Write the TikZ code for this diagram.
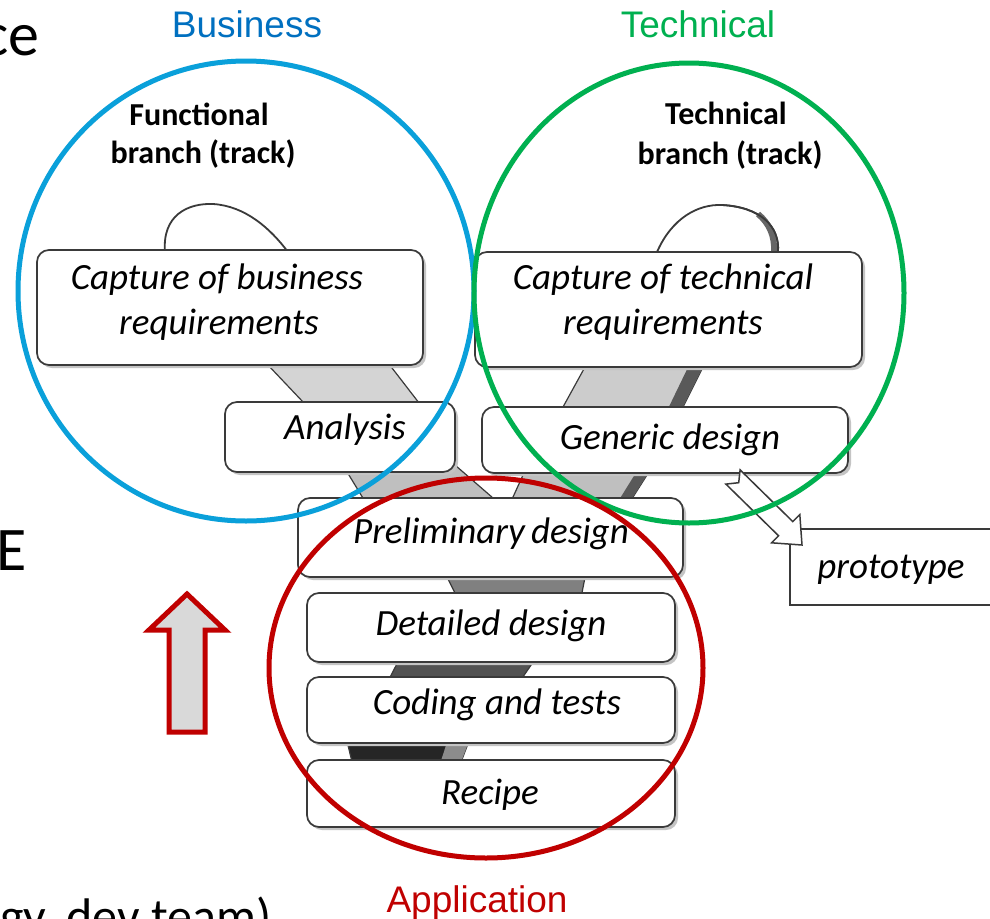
\documentclass[tikz,border=0pt]{standalone}
\usepackage{fontspec}
\setmainfont{Carlito}
\newfontfamily\arialfont{Liberation Sans}
\definecolor{bizblue}{HTML}{0070C0}
\definecolor{circblue}{HTML}{0AA0DA}
\definecolor{techgreen}{HTML}{00B050}
\definecolor{appred}{HTML}{C00000}
\definecolor{boxline}{HTML}{3A3A3A}
\definecolor{shadowgray}{HTML}{C4C4C4}
\definecolor{arrowfill}{HTML}{D9D9D9}
\tikzset{
  stagebox/.style={draw=boxline, line width=1.7pt, fill=white, rounded corners=12pt, inner sep=0pt},
  boxshadow/.style={fill=shadowgray, rounded corners=12pt},
  boxtext/.style={font=\fontsize{37}{42}\selectfont\itshape, anchor=base, inner sep=0pt},
  tracklabel/.style={font=\fontsize{32}{36}\selectfont\bfseries, anchor=base, inner sep=0pt},
  grouplabel/.style={font=\arialfont\fontsize{37}{40}\selectfont, anchor=base, inner sep=0pt},
  slidetext/.style={font=\fontsize{62}{70}\selectfont, inner sep=0pt},
  band/.style={draw=boxline, line width=1.2pt},
  groupring/.style={line width=5pt},
}
\begin{document}
\begin{tikzpicture}[x=1pt,y=-1pt]
\useasboundingbox (0,0) rectangle (990,918);
\clip (0,0) rectangle (990,918);
\fill[white] (0,0) rectangle (990,918);

% ---- slide text cut off at the left ----
\node[slidetext, anchor=base east] (tce) at (40,55) {ce};
\node[slidetext, anchor=base east] (tE) at (27,570) {E};
\node[font=\fontsize{50}{54}\selectfont, anchor=base west, inner sep=0pt] (tdev) at (0,933) {gy, dev team)};

% ---- track bands (behind the boxes) ----
% left branch
\filldraw[band, fill=black!17] (258.5,355) -- (382,355) -- (426,412) -- (312.5,412) -- cycle;
\filldraw[band, fill=black!25] (341,462) -- (451.5,462) -- (504.5,508) -- (369,508) -- cycle;
% technical branch
\filldraw[band, fill=black!20] (590.5,357) -- (708,357) -- (678,417) -- (557.5,417) -- cycle;
\fill[black!65] (708,357) -- (693,357) -- (664,417) -- (678,417) -- cycle;
\filldraw[band, fill=black!25] (528.5,463) -- (654.6,463) -- (626,508) -- (508,508) -- cycle;
\fill[black!65] (654.6,463) -- (642,463) -- (614,508) -- (626,508) -- cycle;
% merged track
\filldraw[band, fill=black!50] (442,567) -- (587,567) -- (580,603) -- (460,603) -- cycle;
\filldraw[band, fill=black!68] (403,652) -- (540,652) -- (516,687) -- (385,687) -- cycle;
\filldraw[band, fill=black!85] (345,733) -- (472,733) -- (458,770) -- (354,770) -- cycle;
\fill[black!45] (472,733) -- (450,733) -- (438,770) -- (458,770) -- cycle;

% ---- loops above the top boxes ----
\draw[boxline, line width=1.8pt, fill=white] (165,252) .. controls (162,215) and (188,203) .. (213,204) .. controls (245,206) and (270,228) .. (288,252);
\draw[boxline, line width=1.8pt, fill=white] (657,252) .. controls (672,218) and (698,204) .. (722,205) .. controls (760,207) and (780,226) .. (778,252);
\draw[black!60, line width=6pt] (774,252) .. controls (775,236) and (769,223) .. (758,214);
\draw[boxline, line width=1.8pt] (722,205) .. controls (760,207) and (780,226) .. (778,252);

% ---- stage boxes ----
\foreach \a/\b/\c/\d in {37/250/423/365, 475/252/862/367, 225/402/455/472, 482/407/848/473, 298/498/683/577, 307/593/675/662, 307/677/675/743, 307/760/675/827}
  \fill[boxshadow] (\a+3,\b+3) rectangle (\c+3,\d+3);
\node[stagebox, minimum width=386pt, minimum height=115pt] (bus) at (230,307.5) {};
\node[stagebox, minimum width=387pt, minimum height=115pt] (tec) at (668.5,309.5) {};
\node[stagebox, minimum width=230pt, minimum height=70pt] (ana) at (340,437) {};
\node[stagebox, minimum width=366pt, minimum height=66pt] (gen) at (665,440) {};
\node[stagebox, minimum width=385pt, minimum height=79pt] (pre) at (490.5,537.5) {};
\node[stagebox, minimum width=368pt, minimum height=69pt] (det) at (491,627.5) {};
\node[stagebox, minimum width=368pt, minimum height=66pt] (cod) at (491,710) {};
\node[stagebox, minimum width=368pt, minimum height=67pt] (rec) at (491,793.5) {};
\node[draw=boxline, line width=1.7pt, fill=white, minimum width=230pt, minimum height=76pt, inner sep=0pt] (pro) at (905,567) {};

\node[boxtext] (tbus1) at (217,289) {Capture of business};
\node[boxtext] (tbus2) at (219,334) {requirements};
\node[boxtext] (ttec1) at (663,289) {Capture of technical};
\node[boxtext] (ttec2) at (663,334) {requirements};
\node[boxtext] (tana) at (345,439) {Analysis};
\node[boxtext] (tgen) at (670,449) {Generic design};
\node[boxtext] (tpre) at (491,543) {Preliminary\kern-2pt\ design};
\node[boxtext] (tdet) at (491,635) {Detailed design};
\node[boxtext] (tcod) at (497,714) {Coding and tests};
\node[boxtext] (trec) at (490,804) {Recipe};
\node[boxtext] (tpro) at (891,578) {prototype};

% ---- hollow notched arrow towards the prototype ----
\filldraw[draw=boxline, line width=1.5pt, fill=white, line join=miter]
  (740.1,469.9) -- (792.8,521.6) -- (799.8,514.6) -- (802,545) -- (771.6,542.8) -- (778.6,535.8) -- (725.9,484.1) -- (738.7,482.7) -- cycle;

% ---- red upward block arrow ----
\filldraw[draw=appred, fill=arrowfill, line width=5pt, line join=miter]
  (187,594) -- (225,630) -- (205,630) -- (205,732) -- (169,732) -- (169,630) -- (149,630) -- cycle;

% ---- track titles ----
\node[tracklabel] (fun1) at (199,125) {Functional};
\node[tracklabel] (fun2) at (203,163) {branch (track)};
\node[tracklabel] (tch1) at (726,124) {Technical};
\node[tracklabel] (tch2) at (730,164) {branch (track)};

% ---- group rings ----
\draw[groupring, circblue] (246,291) ellipse [x radius=228pt, y radius=230pt];
\draw[groupring, techgreen] (689,293) ellipse [x radius=215pt, y radius=230pt];
\draw[groupring, appred] (486,668) ellipse [x radius=217pt, y radius=190pt];

% ---- group labels ----
\node[grouplabel, text=bizblue] (gbus) at (247,37) {Business};
\node[grouplabel, text=techgreen] (gtec) at (698,37) {Technical};
\node[grouplabel, text=appred] (gapp) at (477,912) {Application};
\end{tikzpicture}
\end{document}
